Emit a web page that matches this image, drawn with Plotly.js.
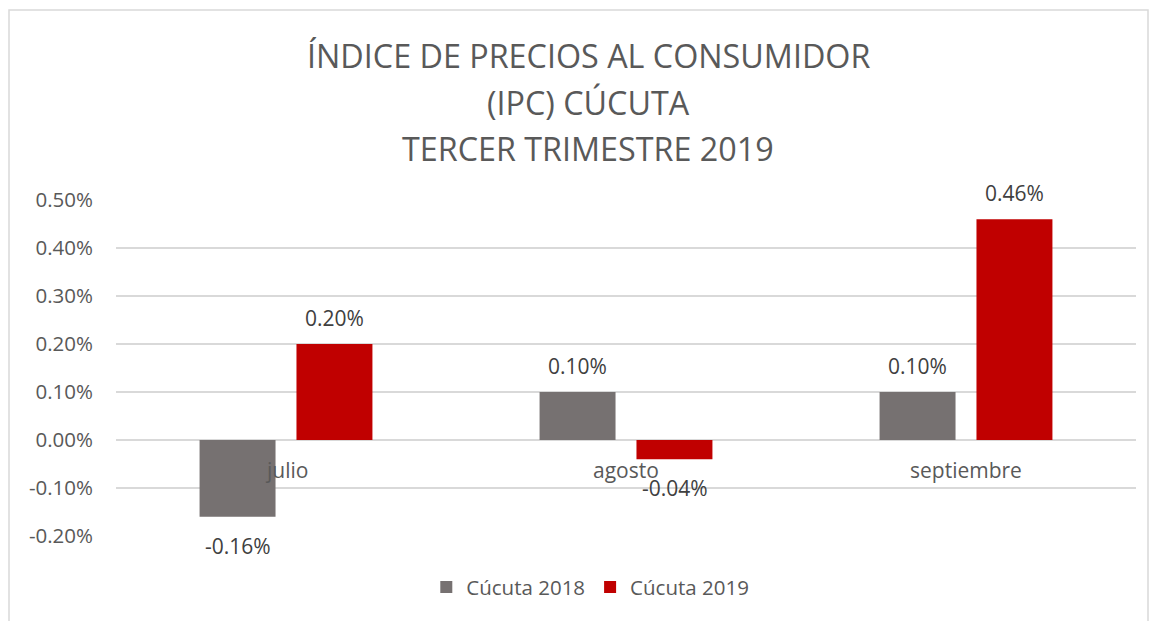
<!DOCTYPE html>
<html><head><meta charset="utf-8">
<script src="https://cdn.plot.ly/plotly-3.0.1.min.js"></script>
<style>body{margin:0;background:#fff}#chart{width:1151px;height:621px}</style>
</head><body><div id="chart"></div>
<script>
const categories = ["julio", "agosto", "septiembre"];
const series2018 = [-0.0016, 0.0010, 0.0010];
const series2019 = [0.0020, -0.0004, 0.0046];
const seriesNames = ["Cúcuta 2018", "Cúcuta 2019"];
const titleLines = ["ÍNDICE DE PRECIOS AL CONSUMIDOR", "(IPC) CÚCUTA", "TERCER TRIMESTRE 2019"];
const tickVals = [-0.002, -0.001, 0, 0.001, 0.002, 0.003, 0.004, 0.005];

const fmt = v => (v * 100).toFixed(2) + "%";
const font = "Open Sans, Noto Sans, sans-serif";
const txtColor = "#595959";
const labelColor = "#404040";

const traces = [
  {type: "bar", name: seriesNames[0], x: categories, y: series2018,
   marker: {color: "#767171"}, hoverinfo: "none"},
  {type: "bar", name: seriesNames[1], x: categories, y: series2019,
   marker: {color: "#C00000"}, hoverinfo: "none"}
];

const annotations = titleLines.map((t, i) => ({
  text: t, xref: "paper", yref: "paper", x: 0.463, y: (536 - (55 + i * 46.5)) / 336,
  xanchor: "center", yanchor: "middle", showarrow: false,
  font: {family: font, size: 32.3, color: txtColor}
}));
categories.forEach(c => annotations.push({
  text: c, xref: "x", yref: "y", x: c, y: 0, yanchor: "top", yshift: -14,
  showarrow: false, font: {family: font, size: 21, color: txtColor}
}));
[series2018, series2019].forEach((s, k) => s.forEach((v, i) => annotations.push({
  text: fmt(v), xref: "x", yref: "y", x: categories[i], y: v,
  xshift: (k === 0 ? -48.5 : 48.5),
  yanchor: v >= 0 ? "bottom" : "top", yshift: v >= 0 ? 10 : -13,
  showarrow: false, font: {family: font, size: 21, color: labelColor}
})));

const layout = {
  width: 1151, height: 621,
  margin: {l: 116, r: 15, t: 200, b: 85},
  paper_bgcolor: "#fff", plot_bgcolor: "#fff",
  font: {family: font, color: txtColor},
  barmode: "group", bargap: 0.43, bargroupgap: 0.216,
  xaxis: {showticklabels: false, showgrid: false, zeroline: false, showline: false, ticks: ""},
  yaxis: {range: [-0.002, 0.005], tickvals: tickVals, ticktext: tickVals.map(fmt),
          showgrid: true, gridcolor: "#d9d9d9", gridwidth: 1.5, zeroline: false,
          tickfont: {family: font, size: 20.5, color: txtColor}, ticks: "", ticklabelstandoff: 22},
  showlegend: true,
  legend: {orientation: "h", x: 0.465, xanchor: "center", y: -0.152, yanchor: "middle",
           font: {family: font, size: 20.5, color: txtColor}, itemwidth: 30, traceorder: "normal"},
  annotations: annotations,
  shapes: [{type: "rect", xref: "paper", yref: "paper",
            x0: (9 - 116) / 1020, x1: (1148 - 116) / 1020, y0: -0.4, y1: (536 - 10) / 336,
            line: {color: "#d9d9d9", width: 1.5}, fillcolor: "rgba(0,0,0,0)", layer: "below"}]
};

Plotly.newPlot("chart", traces, layout, {displayModeBar: false, staticPlot: true});
</script></body></html>
